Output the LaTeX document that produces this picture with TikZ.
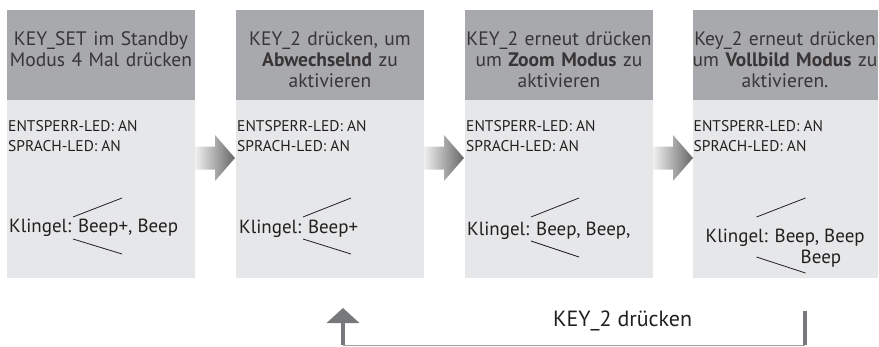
\documentclass[tikz,border=0pt]{standalone}
\usepackage{fontspec}
\setmainfont{PT Sans}
\usetikzlibrary{positioning,arrows.meta}

\definecolor{headgray}{HTML}{A7A9AC}
\definecolor{bodygray}{HTML}{E6E7E8}
\definecolor{inkgray}{HTML}{231F20}
\definecolor{arrowgray}{HTML}{77787B}
\definecolor{linegray}{HTML}{A0A1A3}

\tikzset{
  head/.style={fill=headgray, minimum width=188pt, minimum height=90pt, inner sep=0pt, outer sep=0pt},
  body/.style={fill=bodygray, minimum width=188pt, minimum height=178pt, inner sep=0pt, outer sep=0pt},
  headtext/.style={anchor=north, inner sep=0pt, text width=188pt, align=center, text=inkgray!90,
    font=\fontsize{19.5}{21}\selectfont},
  ledtext/.style={anchor=north west, inner sep=0pt, align=left, text=inkgray,
    font=\fontsize{15.5}{20}\selectfont},
  belltext/.style={anchor=base west, inner sep=0pt, align=left, text=inkgray,
    font=\fontsize{19}{21}\selectfont},
  wedge/.style={inkgray, line width=0.8pt},
  blockarrow/.style={left color=gray!12, right color=black!60},
}

\begin{document}
\begin{tikzpicture}[x=1pt,y=-1pt]
  \useasboundingbox (0,0) rectangle (879,346);

  % the four steps
  \node[head, anchor=north west] (h1) at (7,10) {};
  \node[head, right=41pt of h1]  (h2) {};
  \node[head, right=41pt of h2]  (h3) {};
  \node[head, right=41pt of h3, minimum width=185pt, xshift=-1.5pt] (h4) {};
  \node[body, below=0pt of h1] (b1) {};
  \node[body, below=0pt of h2] (b2) {};
  \node[body, below=0pt of h3] (b3) {};
  \node[body, below=0pt of h4, minimum width=185pt] (b4) {};

  \node[headtext] (t1) at ([yshift=-21pt]h1.north) {KEY\_SET im Standby\\Modus 4 Mal drücken};
  \node[headtext] (t2) at ([yshift=-21pt]h2.north) {KEY\_2 drücken, um\\\textbf{Abwechselnd} zu\\aktivieren};
  \node[headtext] (t3) at ([yshift=-21pt]h3.north) {KEY\_2 erneut drücken\\um \textbf{Zoom Modus} zu\\aktivieren};
  \node[headtext] (t4) at ([yshift=-21pt]h4.north) {Key\_2 erneut drücken\\um \textbf{Vollbild Modus} zu\\aktivieren.};

  % led state
  \foreach \i in {1,...,4}
    \node[ledtext] (led\i) at ([shift={(1,20)}]b\i.north west) {ENTSPERR-LED: AN\\SPRACH-LED: AN};

  % ring tone
  \node[belltext] (k1) at ([shift={(2,132)}]b1.north west) {Klingel: Beep+, Beep};
  \node[belltext] (k2) at ([shift={(3,133)}]b2.north west) {Klingel: Beep+};
  \node[belltext] (k3) at ([shift={(2,135)}]b3.north west) {Klingel: Beep, Beep,};
  \node[belltext] (k4) at ([shift={(13,163)}]b4.north west) {Klingel: Beep, Beep\\\hspace*{95pt}Beep};

  \draw[wedge] ([shift={(66,117)}]b1.north west) -- ++(49,-19);
  \draw[wedge] ([shift={(66,139)}]b1.north west) -- ++(49,15);
  \draw[wedge] ([shift={(67,117)}]b2.north west) -- ++(48,-19);
  \draw[wedge] ([shift={(67,139)}]b2.north west) -- ++(48,15);
  \draw[wedge] ([shift={(66,117)}]b3.north west) -- ++(48,-19);
  \draw[wedge] ([shift={(66,141)}]b3.north west) -- ++(48,16);
  \draw[wedge] ([shift={(64,117)}]b4.north west) -- ++(49,-19);
  \draw[wedge] ([shift={(64,157)}]b4.north west) -- ++(49,16);

  % block arrows between the steps
  \foreach \i in {1,2,3}
    \shade[blockarrow] ([shift={(0,58)}]b\i.north east) ++(0,-11.5) -- ++(20,0) -- ++(0,-11.5)
      -- ++(20,23) -- ++(-20,23) -- ++(0,-11.5) -- ++(-20,0) -- cycle;

  % back loop
  \coordinate (kb) at (805,311);
  \coordinate (kc) at (805,345.5);
  \coordinate (ka) at (343,345.5);
  \coordinate (kt) at (343,308);
  \draw[linegray, line width=1.2pt] (kc) -- (ka);
  \draw[arrowgray, line width=4pt] (kb) -- ([yshift=0.9]kc);
  \draw[arrowgray, line width=4pt, -{Triangle[width=32pt,length=15pt]}] ([yshift=0.9]ka) -- (kt);
  \node[anchor=base west, inner sep=0pt, text=inkgray, font=\fontsize{22}{26}\selectfont] (lbl) at (553,326) {KEY\_2 drücken};
\end{tikzpicture}
\end{document}
